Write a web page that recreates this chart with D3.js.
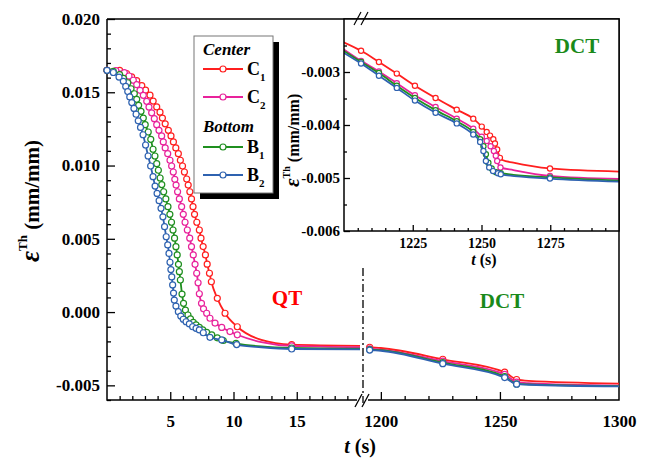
<!DOCTYPE html>
<html>
<head>
<meta charset="utf-8">
<script src="https://cdn.jsdelivr.net/npm/d3@7"></script>
<style>
body { margin: 0; background: #fff; }
svg { display: block; }
text { font-family: 'Liberation Serif', 'Times New Roman', serif; font-weight: bold; fill: #000; }
</style>
</head>
<body>
<svg id="chart" width="646" height="461"></svg>
<script>
// series
var seriesNames = ["C1", "C2", "B1", "B2"];
var seriesColors = ["#ff1f1f", "#e8229b", "#1f8f1f", "#2e62b0"];

// quenching part, [t, strain, marker]
var c1Quench = [[0,0.01650,1],[1.0,0.01649,1],[1.55,0.01628,1],[1.95,0.01605,1],[2.35,0.01580,1],[2.75,0.01545,1],[3.05,0.01514,1],[3.4,0.01480,1],[3.65,0.01440,1],[3.93,0.01400,1],[4.19,0.01364,1],[4.38,0.01324,1],[4.6,0.01285,1],[4.85,0.01240,1],[5.06,0.01202,1],[5.25,0.01161,1],[5.44,0.01120,1],[5.64,0.01081,1],[5.8,0.01036,1],[5.97,0.00997,1],[6.12,0.00956,1],[6.3,0.00908,1],[6.42,0.00867,1],[6.55,0.00821,1],[6.68,0.00772,1],[6.8,0.00719,1],[6.92,0.00667,1],[7.1,0.00613,1],[7.3,0.00560,1],[7.43,0.00504,1],[7.6,0.00447,1],[7.78,0.00390,1],[7.92,0.00327,1],[8.1,0.00265,1],[8.25,0.00207,1],[8.72,0.00094,1],[9.33,-0.00008,1],[10.3,-0.00100,1],[12.2,-0.00190,0],[14.6,-0.00222,1],[20,-0.00230,0]];
var c2Quench = [[0,0.01650,1],[0.7,0.01648,1],[1.37,0.01634,1],[1.74,0.01611,1],[2.08,0.01582,1],[2.35,0.01552,1],[2.61,0.01513,1],[2.87,0.01479,1],[3.14,0.01438,1],[3.32,0.01399,1],[3.53,0.01360,1],[3.74,0.01320,1],[3.93,0.01279,1],[4.11,0.01240,1],[4.32,0.01202,1],[4.45,0.01161,1],[4.6,0.01120,1],[4.8,0.01081,1],[4.98,0.01036,1],[5.11,0.00997,1],[5.24,0.00956,1],[5.36,0.00906,1],[5.46,0.00867,1],[5.58,0.00821,1],[5.72,0.00772,1],[5.9,0.00719,1],[6.03,0.00667,1],[6.17,0.00613,1],[6.35,0.00560,1],[6.54,0.00504,1],[6.68,0.00446,1],[6.82,0.00390,1],[6.96,0.00326,1],[7.09,0.00265,1],[7.2,0.00200,1],[7.3,0.00125,1],[7.47,0.00060,1],[7.63,0.00022,1],[7.88,-0.00008,1],[8.14,-0.00042,1],[8.54,-0.00075,1],[9.07,-0.00105,1],[9.72,-0.00133,1],[10.3,-0.00155,1],[12.2,-0.00205,0],[14.6,-0.00231,1],[20,-0.00240,0]];
var b1Quench = [[0,0.01650,1],[0.5,0.01642,1],[1.0,0.01620,1],[1.3,0.01595,1],[1.64,0.01565,1],[1.9,0.01524,1],[2.16,0.01490,1],[2.35,0.01452,1],[2.5,0.01411,1],[2.69,0.01370,1],[2.87,0.01324,1],[3.02,0.01279,1],[3.26,0.01229,1],[3.46,0.01179,1],[3.64,0.01111,1],[3.79,0.01065,1],[3.93,0.01013,1],[4.06,0.00968,1],[4.2,0.00915,1],[4.33,0.00870,1],[4.48,0.00821,1],[4.65,0.00772,1],[4.82,0.00719,1],[4.97,0.00667,1],[5.1,0.00613,1],[5.22,0.00560,1],[5.34,0.00504,1],[5.45,0.00446,1],[5.55,0.00390,1],[5.65,0.00326,1],[5.72,0.00276,1],[5.8,0.00219,1],[5.93,0.00123,1],[6.05,0.00060,1],[6.2,0.00014,1],[6.4,-0.00020,1],[6.6,-0.00047,1],[6.82,-0.00070,1],[7.04,-0.00088,1],[7.3,-0.00104,1],[7.57,-0.00122,1],[7.88,-0.00138,1],[8.28,-0.00156,1],[8.72,-0.00176,1],[9.19,-0.00194,1],[10.2,-0.00213,1],[12.2,-0.00235,0],[14.6,-0.00245,1],[20,-0.00250,0]];
var b2Quench = [[0,0.01650,1],[0.5,0.01635,1],[0.95,0.01604,1],[1.29,0.01575,1],[1.48,0.01540,1],[1.64,0.01505,1],[1.8,0.01468,1],[1.96,0.01430,1],[2.13,0.01390,1],[2.3,0.01350,1],[2.47,0.01305,1],[2.65,0.01260,1],[2.85,0.01210,1],[3.05,0.01140,1],[3.25,0.01065,1],[3.45,0.00997,1],[3.64,0.00924,1],[3.8,0.00860,1],[3.96,0.00810,1],[4.12,0.00760,1],[4.27,0.00708,1],[4.42,0.00650,1],[4.55,0.00583,1],[4.68,0.00514,1],[4.8,0.00458,1],[4.9,0.00400,1],[4.98,0.00340,1],[5.05,0.00290,1],[5.12,0.00240,1],[5.19,0.00185,1],[5.26,0.00130,1],[5.32,0.00082,1],[5.45,0.00041,1],[5.64,0.00003,1],[5.83,-0.00027,1],[6.03,-0.00049,1],[6.25,-0.00066,1],[6.51,-0.00081,1],[6.77,-0.00100,1],[7.04,-0.00111,1],[7.3,-0.00122,1],[7.61,-0.00141,1],[8.14,-0.00172,1],[9.07,-0.00190,1],[10.25,-0.00222,1],[12.2,-0.00240,0],[14.6,-0.00252,1],[20,-0.00254,0]];

// deep cryogenic part
var c1Deep = [[1194,-0.00238,0],[1195.3,-0.00240,1],[1200,-0.00245,0],[1226,-0.00322,1],[1252,-0.00410,1],[1257,-0.00460,1],[1262,-0.00470,0],[1300,-0.00488,0]];
var c2Deep = [[1194,-0.00250,0],[1195.3,-0.00251,1],[1200,-0.00256,0],[1226,-0.00335,1],[1252,-0.00425,1],[1257,-0.00478,1],[1262,-0.00485,0],[1300,-0.00502,0]];
var b1Deep = [[1194,-0.00254,0],[1195.3,-0.00256,1],[1200,-0.00260,0],[1226,-0.00345,1],[1252,-0.00440,1],[1257,-0.00490,1],[1262,-0.00494,0],[1300,-0.00505,0]];
var b2Deep = [[1194,-0.00257,0],[1195.3,-0.00259,1],[1200,-0.00264,0],[1226,-0.00352,1],[1252,-0.00447,1],[1257,-0.00492,1],[1262,-0.00496,0],[1300,-0.00507,0]];

// inset
var c1Inset = [[1199,-0.00242,0],[1206.2,-0.00260,1],[1212.7,-0.00281,1],[1219.2,-0.00303,1],[1225.8,-0.00326,1],[1233.3,-0.00349,1],[1241,-0.00371,1],[1247,-0.00388,1],[1250.1,-0.00403,1],[1251.9,-0.00413,1],[1253.1,-0.00420,1],[1254.3,-0.00427,1],[1254.9,-0.00435,1],[1255.7,-0.00446,1],[1256.7,-0.00462,1],[1257.6,-0.00466,0],[1261.6,-0.00471,0],[1274.9,-0.00482,1],[1301,-0.00488,0]];
var c2Inset = [[1199,-0.00254,0],[1206.2,-0.00279,1],[1212.7,-0.00299,1],[1219.2,-0.00321,1],[1225.8,-0.00344,1],[1233.3,-0.00366,1],[1241,-0.00388,1],[1247,-0.00407,1],[1250.1,-0.00422,1],[1251.9,-0.00430,1],[1253.3,-0.00440,1],[1254.5,-0.00449,1],[1255.2,-0.00458,1],[1255.7,-0.00468,1],[1256.9,-0.00480,1],[1261.6,-0.00485,0],[1274.9,-0.00496,1],[1301,-0.00502,0]];
var b1Inset = [[1199,-0.00257,0],[1206.2,-0.00281,1],[1212.7,-0.00302,1],[1219.2,-0.00326,1],[1225.8,-0.00349,1],[1233.3,-0.00372,1],[1241,-0.00393,1],[1247,-0.00413,1],[1249.5,-0.00427,1],[1250.7,-0.00440,1],[1251.6,-0.00455,1],[1252.5,-0.00471,1],[1253.7,-0.00482,1],[1255.3,-0.00489,1],[1257,-0.00491,1],[1261.6,-0.00494,0],[1274.9,-0.00499,1],[1301,-0.00505,0]];
var b2Inset = [[1199,-0.00261,0],[1206.2,-0.00284,1],[1212.7,-0.00307,1],[1219.2,-0.00330,1],[1225.8,-0.00354,1],[1233.3,-0.00377,1],[1241,-0.00397,1],[1247,-0.00418,1],[1249.5,-0.00432,1],[1250.7,-0.00449,1],[1251.6,-0.00468,1],[1252.8,-0.00480,1],[1254.2,-0.00487,1],[1256,-0.00491,1],[1257,-0.00493,1],[1274.9,-0.00501,1],[1301,-0.00507,0]];

var quenchData = [c1Quench, c2Quench, b1Quench, b2Quench];
var deepData = [c1Deep, c2Deep, b1Deep, b2Deep];
var insetData = [c1Inset, c2Inset, b1Inset, b2Inset];

// ticks
var yTicks = [-0.005, 0, 0.005, 0.010, 0.015, 0.020];
var xTicksQuench = [5, 10, 15];
var xTicksDeep = [1200, 1250, 1300];
var yTicksInset = [-0.006, -0.005, -0.004, -0.003];
var xTicksInset = [1225, 1250, 1275];

var svg = d3.select("#chart");
svg.append("rect").attr("width", 646).attr("height", 461).attr("fill", "#fff");

var x1 = d3.scaleLinear().domain([0, 20]).range([107, 360]);
var x2 = d3.scaleLinear().domain([1192.5, 1300]).range([363, 619]);
var y = d3.scaleLinear().domain([-0.006, 0.020]).range([400, 19]);
var xi = d3.scaleLinear().domain([1200, 1300]).range([344, 619]);
var yi = d3.scaleLinear().domain([-0.006, -0.002]).range([231, 19]);

var fmt = function(d) { return d.toFixed(3); };

function styleAxis(g, size) {
    g.select(".domain").remove();
    g.selectAll("line").attr("stroke", "#000").attr("stroke-width", 1.3);
    g.selectAll("text").style("font-size", size + "px");
}

// main axes
var gy = svg.append("g").attr("transform", "translate(107,0)")
    .call(d3.axisLeft(y).tickValues(yTicks).tickFormat(fmt).tickSize(-8).tickPadding(7));
styleAxis(gy, 17);
var gym = svg.append("g").attr("transform", "translate(107,0)")
    .call(d3.axisLeft(y).tickValues(d3.range(-0.006, 0.0201, 0.001).filter(function(v) { return Math.abs(Math.round(v * 1000) % 5) !== 0; })).tickFormat("").tickSize(-4));
styleAxis(gym, 17);

var gx1 = svg.append("g").attr("transform", "translate(0,400)")
    .call(d3.axisBottom(x1).tickValues(xTicksQuench).tickFormat(d3.format("d")).tickSize(-8).tickPadding(15));
styleAxis(gx1, 17);
var gx1m = svg.append("g").attr("transform", "translate(0,400)")
    .call(d3.axisBottom(x1).tickValues(d3.range(1, 20).filter(function(v) { return v % 5 !== 0; })).tickFormat("").tickSize(-4));
styleAxis(gx1m, 17);

var gx2 = svg.append("g").attr("transform", "translate(0,400)")
    .call(d3.axisBottom(x2).tickValues(xTicksDeep).tickFormat(d3.format("d")).tickSize(-8).tickPadding(15));
styleAxis(gx2, 17);
gx2.selectAll(".tick").filter(function(d) { return d === 1300; }).select("line").remove();
var gx2m = svg.append("g").attr("transform", "translate(0,400)")
    .call(d3.axisBottom(x2).tickValues(d3.range(1210, 1300, 10).filter(function(v) { return v !== 1250; })).tickFormat("").tickSize(-4));
styleAxis(gx2m, 17);

// main frame
var frame = svg.append("g").attr("stroke", "#000").attr("stroke-width", 1.5).attr("fill", "none");
frame.append("path").attr("d", "M107,19V400H357M368,400H619V19H107");

// break marks
var brk = svg.append("g").attr("stroke", "#000").attr("stroke-width", 1.3);
brk.append("line").attr("x1", 355).attr("y1", 407).attr("x2", 362).attr("y2", 394);
brk.append("line").attr("x1", 362).attr("y1", 407).attr("x2", 369).attr("y2", 394);

// dash-dot separator
svg.append("line").attr("x1", x2(1192.5)).attr("x2", x2(1192.5)).attr("y1", 268).attr("y2", 403)
    .attr("stroke", "#000").attr("stroke-width", 1.3).attr("stroke-dasharray", "8,3,2,3");

function drawSeries(parent, data, xs, ys, i, lw, r) {
    var g = parent.append("g");
    var line = d3.line().x(function(d) { return xs(d[0]); }).y(function(d) { return ys(d[1]); }).curve(d3.curveMonotoneX);
    g.append("path").datum(data).attr("d", line).attr("fill", "none")
        .attr("stroke", seriesColors[i]).attr("stroke-width", lw);
    g.selectAll("circle").data(data.filter(function(d) { return d[2] === 1; })).enter()
        .append("circle")
        .attr("cx", function(d) { return xs(d[0]); }).attr("cy", function(d) { return ys(d[1]); })
        .attr("r", r).attr("fill", "#fff").attr("stroke", seriesColors[i]).attr("stroke-width", 1.2);
}

var plot = svg.append("g");
quenchData.forEach(function(data, i) { drawSeries(plot, data, x1, y, i, 1.8, 3); });
deepData.forEach(function(data, i) { drawSeries(plot, data, x2, y, i, 1.8, 3); });

// axis titles
var xt = svg.append("text").attr("x", 360).attr("y", 453).attr("text-anchor", "middle").style("font-size", "20px");
xt.append("tspan").style("font-style", "italic").text("t");
xt.append("tspan").text(" (s)");

var yt = svg.append("text").attr("transform", "translate(39,262) rotate(-90)").attr("text-anchor", "start");
yt.append("tspan").style("font-size", "27px").style("font-style", "italic").text("ε");
yt.append("tspan").attr("dy", -12).style("font-size", "13px").text("Th");
yt.append("tspan").attr("dy", 12).style("font-size", "21px").text(" (mm/mm)");

// annotations
svg.append("text").attr("x", 287).attr("y", 305).attr("text-anchor", "middle").style("font-size", "21px").style("fill", "#ff0000").text("QT");
svg.append("text").attr("x", 502).attr("y", 308).attr("text-anchor", "middle").style("font-size", "21px").style("fill", "#1a8a1a").text("DCT");

// legend
var lg = svg.append("g");
lg.append("rect").attr("x", 200).attr("y", 42).attr("width", 79).attr("height", 157).attr("fill", "#000");
lg.append("rect").attr("x", 194).attr("y", 36).attr("width", 79).attr("height", 157).attr("fill", "#fff").attr("stroke", "#777").attr("stroke-width", 1);
var legendRows = [69, 97, 147, 175];
var groupLabels = [["Center", 55], ["Bottom", 132]];
groupLabels.forEach(function(gl) {
    lg.append("text").attr("x", 203).attr("y", gl[1]).style("font-size", "17px").style("font-style", "italic").text(gl[0]);
});
seriesNames.forEach(function(name, i) {
    var ly = legendRows[i];
    lg.append("line").attr("x1", 203).attr("x2", 243).attr("y1", ly).attr("y2", ly).attr("stroke", seriesColors[i]).attr("stroke-width", 1.8);
    lg.append("circle").attr("cx", 223).attr("cy", ly).attr("r", 3).attr("fill", "#fff").attr("stroke", seriesColors[i]).attr("stroke-width", 1.2);
    var t = lg.append("text").attr("x", 247).attr("y", ly + 6).style("font-size", "18px");
    t.append("tspan").text(name.charAt(0));
    t.append("tspan").attr("dy", 6).style("font-size", "11px").text(name.charAt(1));
});

// inset
var inset = svg.append("g");
inset.append("rect").attr("x", 344).attr("y", 19).attr("width", 275).attr("height", 212).attr("fill", "#fff");
svg.append("clipPath").attr("id", "insetClip").append("rect").attr("x", 344).attr("y", 19).attr("width", 275).attr("height", 212);
var insetPlot = inset.append("g").attr("clip-path", "url(#insetClip)");
insetData.forEach(function(data, i) { drawSeries(insetPlot, data, xi, yi, i, 1.8, 2.6); });

var giy = inset.append("g").attr("transform", "translate(344,0)")
    .call(d3.axisLeft(yi).tickValues(yTicksInset).tickFormat(fmt).tickSize(-6).tickPadding(4));
styleAxis(giy, 15);
var giym = inset.append("g").attr("transform", "translate(344,0)")
    .call(d3.axisLeft(yi).tickValues([-0.0055, -0.0045, -0.0035, -0.0025]).tickFormat("").tickSize(-3));
styleAxis(giym, 15);
var gix = inset.append("g").attr("transform", "translate(0,231)")
    .call(d3.axisBottom(xi).tickValues(xTicksInset).tickFormat(d3.format("d")).tickSize(-6).tickPadding(7));
styleAxis(gix, 14);
var gixm = inset.append("g").attr("transform", "translate(0,231)")
    .call(d3.axisBottom(xi).tickValues(d3.range(1205, 1300, 5).filter(function(v) { return v % 25 !== 0; })).tickFormat("").tickSize(-3));
styleAxis(gixm, 14);

inset.append("rect").attr("x", 344).attr("y", 19).attr("width", 275).attr("height", 212)
    .attr("fill", "none").attr("stroke", "#000").attr("stroke-width", 1.5);

var ibrk = inset.append("g").attr("stroke", "#000").attr("stroke-width", 1.2);
ibrk.append("line").attr("x1", 354).attr("y1", 25).attr("x2", 361).attr("y2", 12);
ibrk.append("line").attr("x1", 361).attr("y1", 25).attr("x2", 368).attr("y2", 12);

inset.append("text").attr("x", 577).attr("y", 53).attr("text-anchor", "middle").style("font-size", "21px").style("fill", "#1a8a1a").text("DCT");

var ixt = inset.append("text").attr("x", 484).attr("y", 265).attr("text-anchor", "middle").style("font-size", "16px");
ixt.append("tspan").style("font-style", "italic").text("t");
ixt.append("tspan").text(" (s)");

var iyt = inset.append("text").attr("transform", "translate(299,187) rotate(-90)").attr("text-anchor", "start");
iyt.append("tspan").style("font-size", "21px").style("font-style", "italic").text("ε");
iyt.append("tspan").attr("dy", -9).style("font-size", "10px").text("Th");
iyt.append("tspan").attr("dy", 9).style("font-size", "16px").text(" (mm/mm)");
</script>
</body>
</html>
